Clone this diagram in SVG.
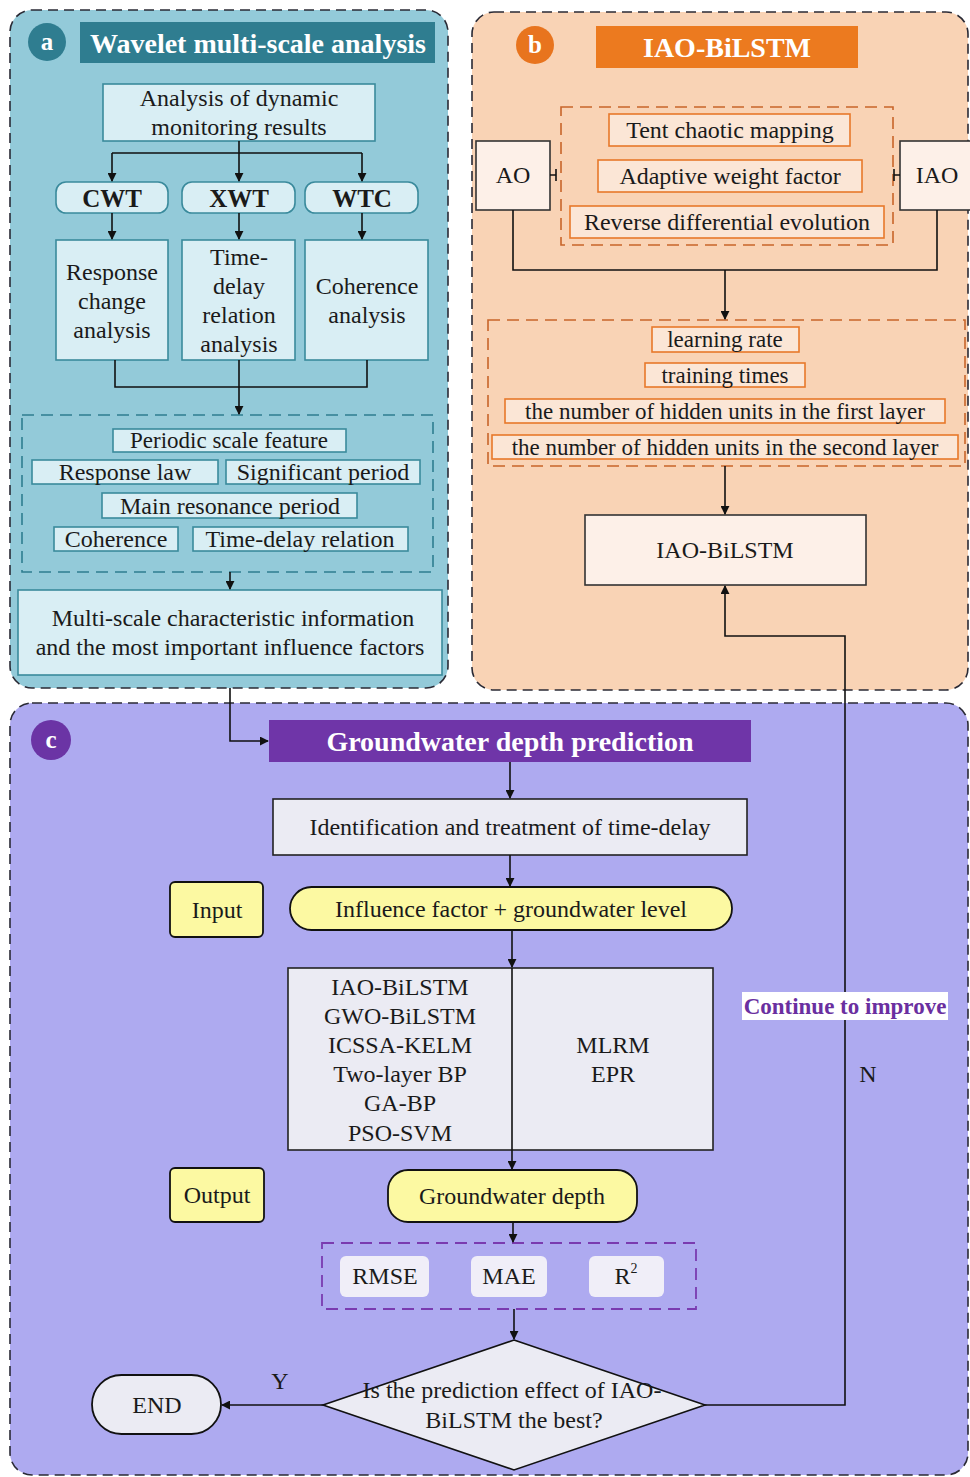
<svg xmlns="http://www.w3.org/2000/svg" width="970" height="1477" viewBox="0 0 970 1477">
<defs>
<marker id="ah" viewBox="0 0 10 10" refX="9" refY="5" markerWidth="9" markerHeight="9" markerUnits="userSpaceOnUse" orient="auto">
<path d="M0,0 L10,5 L0,10 z" fill="#111"/>
</marker>
<style>
text{font-family:"Liberation Serif","Times New Roman",serif;fill:#1a1a1a;text-anchor:middle;dominant-baseline:central}
.panel{stroke:#2a2a35;stroke-width:1.6;stroke-dasharray:10 6}
.tl{font-weight:bold;fill:#fff;font-size:28px}
.tb{fill:#d9eef4;stroke:#3a8a9c;stroke-width:1.6}
.ob{fill:#fbe6d6;stroke:#e8782a;stroke-width:1.6}
.wb{fill:#fdf0e8;stroke:#333;stroke-width:1.6}
.gb{fill:#ebebf3;stroke:#222;stroke-width:1.6}
.yb{fill:#fcf9a2;stroke:#111;stroke-width:1.8}
.mb{fill:#f0eef8}
.t22{font-size:24px}
.t21{font-size:23px}
.b22{font-size:25px;font-weight:bold}
.cn{fill:none;stroke:#111;stroke-width:1.6}
</style>
</defs>

<g id="panel-a">
<rect class="panel" x="10" y="10" width="438" height="678" rx="22" fill="#93cad9"/>
<circle cx="47" cy="42" r="19" fill="#2f7d90"/>
<text class="tl" x="47" y="41" style="font-size:25px">a</text>
<rect x="80" y="22" width="355" height="41" fill="#2f7d90"/>
<text class="tl" x="258" y="43">Wavelet multi-scale analysis</text>
</g>

<g id="node-analysis"><rect class="tb" x="103" y="84" width="272" height="57"/>
<text class="t22" x="239" y="98">Analysis of dynamic</text><text class="t22" x="239" y="127">monitoring results</text></g>
<g id="node-cwt"><rect class="tb" x="56" y="182" width="112" height="31" rx="10" stroke="#222"/><text class="b22" x="112" y="198">CWT</text></g>
<g id="node-xwt"><rect class="tb" x="182" y="182" width="113" height="31" rx="10" stroke="#222"/><text class="b22" x="239" y="198">XWT</text></g>
<g id="node-wtc"><rect class="tb" x="305" y="182" width="113" height="31" rx="10" stroke="#222"/><text class="b22" x="362" y="198">WTC</text></g>
<g id="node-response"><rect class="tb" x="56" y="240" width="112" height="120" stroke="#2d5f6b"/>
<text class="t22" x="112" y="272">Response</text><text class="t22" x="112" y="301">change</text><text class="t22" x="112" y="330">analysis</text></g>
<g id="node-timedelay"><rect class="tb" x="182" y="240" width="113" height="120" stroke="#2d5f6b"/>
<text class="t22" x="239" y="257">Time-</text><text class="t22" x="239" y="286">delay</text><text class="t22" x="239" y="315">relation</text><text class="t22" x="239" y="344">analysis</text></g>
<g id="node-coherence"><rect class="tb" x="305" y="240" width="123" height="120" stroke="#2d5f6b"/>
<text class="t22" x="367" y="286">Coherence</text><text class="t22" x="367" y="315">analysis</text></g>

<g id="group-features">
<rect x="22" y="415" width="411" height="157" fill="none" stroke="#2f7d90" stroke-width="1.6" stroke-dasharray="12 7"/>
<rect class="tb" x="113" y="429" width="233" height="23"/><text class="t21" x="229" y="440">Periodic scale feature</text>
<rect class="tb" x="32" y="460" width="186" height="24"/><text class="t22" x="125" y="472">Response law</text>
<rect class="tb" x="226" y="460" width="194" height="24"/><text class="t22" x="323" y="472">Significant period</text>
<rect class="tb" x="102" y="493" width="255" height="25"/><text class="t22" x="230" y="506">Main resonance period</text>
<rect class="tb" x="54" y="527" width="124" height="24"/><text class="t22" x="116" y="539">Coherence</text>
<rect class="tb" x="193" y="527" width="215" height="24"/><text class="t22" x="300" y="539">Time-delay relation</text>
</g>
<g id="node-multiscale"><rect class="tb" x="18" y="590" width="424" height="85"/>
<text class="t22" x="233" y="618">Multi-scale characteristic information</text>
<text class="t22" x="230" y="647">and the most important influence factors</text></g>

<g id="panel-b">
<rect class="panel" x="472" y="12" width="496" height="678" rx="22" fill="#f9d3b5"/>
<circle cx="535" cy="45" r="19" fill="#e8741e"/>
<text class="tl" x="535" y="44" style="font-size:25px">b</text>
<rect x="596" y="26" width="262" height="42" fill="#ec7a1f"/>
<text class="tl" x="727" y="47">IAO-BiLSTM</text>
</g>
<g id="group-improve">
<rect x="561" y="107" width="332" height="138" fill="none" stroke="#c8652a" stroke-width="1.6" stroke-dasharray="12 7"/>
<rect class="ob" x="609" y="114" width="241" height="32"/><text class="t22" x="730" y="130">Tent chaotic mapping</text>
<rect class="ob" x="598" y="160" width="264" height="32"/><text class="t22" x="730" y="176">Adaptive weight factor</text>
<rect class="ob" x="570" y="206" width="314" height="32"/><text class="t22" x="727" y="222">Reverse differential evolution</text>
</g>
<g id="node-ao"><rect class="wb" x="476" y="141" width="74" height="69"/><text class="t22" x="513" y="175">AO</text></g>
<g id="node-iao"><rect class="wb" x="900" y="141" width="72" height="69"/><text class="t22" x="937" y="175">IAO</text></g>
<g id="group-params">
<rect x="488" y="320" width="477" height="146" fill="none" stroke="#c8652a" stroke-width="1.6" stroke-dasharray="12 7"/>
<rect class="ob" x="652" y="327" width="147" height="25"/><text class="t21" x="725" y="339">learning rate</text>
<rect class="ob" x="645" y="363" width="160" height="24"/><text class="t21" x="725" y="375">training times</text>
<rect class="ob" x="505" y="399" width="440" height="24"/><text class="t21" x="725" y="411">the number of hidden units in the first layer</text>
<rect class="ob" x="492" y="435" width="466" height="24"/><text class="t21" x="725" y="447">the number of hidden units in the second layer</text>
</g>
<g id="node-iaobilstm"><rect class="wb" x="585" y="515" width="281" height="70"/><text class="t22" x="725" y="550">IAO-BiLSTM</text></g>

<g id="panel-c">
<rect class="panel" x="10" y="703" width="958" height="772" rx="22" fill="#aeaaf0"/>
<circle cx="51" cy="740" r="20" fill="#6b34a5"/>
<text class="tl" x="51" y="739" style="font-size:25px">c</text>
<rect x="269" y="720" width="482" height="42" fill="#6f35a8"/>
<text class="tl" x="510" y="741">Groundwater depth prediction</text>
</g>
<g id="node-identification"><rect class="gb" x="273" y="799" width="474" height="56"/><text class="t22" x="510" y="827">Identification and treatment of time-delay</text></g>
<g id="node-input"><rect class="yb" x="170" y="882" width="93" height="55" rx="5"/><text class="t22" x="217" y="910">Input</text></g>
<g id="node-influence"><rect class="yb" x="290" y="887" width="442" height="43" rx="21.5"/><text class="t22" x="511" y="909">Influence factor + groundwater level</text></g>
<g id="node-models"><rect class="gb" x="288" y="968" width="425" height="182"/>
<text class="t22" x="400" y="987">IAO-BiLSTM</text><text class="t22" x="400" y="1016">GWO-BiLSTM</text><text class="t22" x="400" y="1045">ICSSA-KELM</text>
<text class="t22" x="400" y="1074">Two-layer BP</text><text class="t22" x="400" y="1103">GA-BP</text><text class="t22" x="400" y="1133">PSO-SVM</text>
<text class="t22" x="613" y="1045">MLRM</text><text class="t22" x="613" y="1074">EPR</text></g>
<g id="node-output"><rect class="yb" x="170" y="1168" width="94" height="54" rx="5"/><text class="t22" x="217" y="1195">Output</text></g>
<g id="node-gwdepth"><rect class="yb" x="388" y="1170" width="249" height="52" rx="20"/><text class="t22" x="512" y="1196">Groundwater depth</text></g>
<g id="group-metrics">
<rect x="322" y="1243" width="374" height="66" fill="none" stroke="#7a3bb0" stroke-width="1.8" stroke-dasharray="12 7"/>
<rect class="mb" x="340" y="1256" width="89" height="41" rx="6"/><text class="t22" x="385" y="1276">RMSE</text>
<rect class="mb" x="471" y="1256" width="76" height="41" rx="6"/><text class="t22" x="509" y="1276">MAE</text>
<rect class="mb" x="589" y="1256" width="75" height="41" rx="6"/><text class="t22" x="626" y="1276">R<tspan font-size="14" dy="-8">2</tspan></text>
</g>
<g id="node-decision"><polygon points="514,1340 705,1405 514,1470 323,1405" fill="#ebebf3" stroke="#111" stroke-width="1.6"/>
<text class="t22" x="512" y="1390">Is the prediction effect of IAO-</text><text class="t22" x="514" y="1420">BiLSTM the best?</text></g>
<g id="node-end"><rect x="92" y="1375" width="129" height="59" rx="29.5" fill="#ebebf3" stroke="#111" stroke-width="1.8"/><text class="t22" x="157" y="1405">END</text></g>

<g id="connectors">
<path class="cn" d="M239,141 V153 M112,153 H362"/>
<path class="cn" d="M112,153 V181" marker-end="url(#ah)"/>
<path class="cn" d="M239,153 V181" marker-end="url(#ah)"/>
<path class="cn" d="M362,153 V181" marker-end="url(#ah)"/>
<path class="cn" d="M112,213 V239" marker-end="url(#ah)"/>
<path class="cn" d="M239,213 V239" marker-end="url(#ah)"/>
<path class="cn" d="M362,213 V239" marker-end="url(#ah)"/>
<path class="cn" d="M115,360 V387 H367 V360 M239,360 V387"/>
<path class="cn" d="M239,387 V414" marker-end="url(#ah)"/>
<path class="cn" d="M230,572 V589" marker-end="url(#ah)"/>
<path class="cn" d="M230,688 V741 H268" marker-end="url(#ah)"/>
<path class="cn" d="M550,175 H556 M556,169 V181 M894,175 H900 M894,169 V181"/>
<path class="cn" d="M513,210 V270 H937 V210"/>
<path class="cn" d="M725,270 V319" marker-end="url(#ah)"/>
<path class="cn" d="M725,466 V514" marker-end="url(#ah)"/>
<path class="cn" d="M705,1405 H845 V636 H725 V586" marker-end="url(#ah)"/>
<path class="cn" d="M510,762 V798" marker-end="url(#ah)"/>
<path class="cn" d="M510,855 V886" marker-end="url(#ah)"/>
<path class="cn" d="M512,930 V967" marker-end="url(#ah)"/>
<path class="cn" d="M512,968 V1169" marker-end="url(#ah)"/>
<path class="cn" d="M513,1222 V1242" marker-end="url(#ah)"/>
<path class="cn" d="M514,1309 V1339" marker-end="url(#ah)"/>
<path class="cn" d="M323,1405 H222" marker-end="url(#ah)"/>
<text class="t22" x="280" y="1381">Y</text>
<text class="t22" x="868" y="1074">N</text>
<rect x="742" y="992" width="206" height="28" fill="#ffffff"/>
<text x="845" y="1006" style="font-size:23px;font-weight:bold;fill:#6a2fa0">Continue to improve</text>
</g>
</svg>
